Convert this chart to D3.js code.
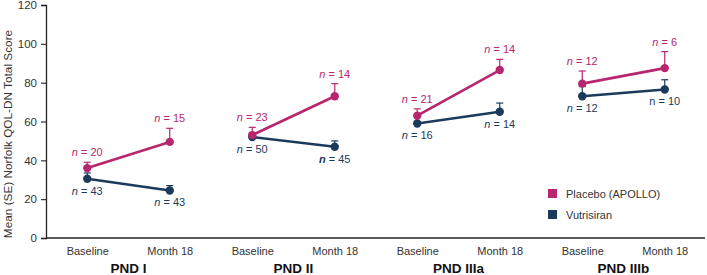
<!DOCTYPE html>
<html>
<head>
<meta charset="utf-8">
<script src="https://cdn.jsdelivr.net/npm/d3@7"></script>
<style>
  body { margin: 0; background: #fff; }
  svg { display: block; font-family: "Liberation Sans", Arial, sans-serif; }
</style>
</head>
<body>
<div id="chart"></div>
<script>
// données
const groups = ["PND I", "PND II", "PND IIIa", "PND IIIb"];
const timepoints = ["Baseline", "Month 18"];
const yTicks = [0, 20, 40, 60, 80, 100, 120];

const placeboMean = [36, 49.5, 53, 73, 63, 86.5, 79.5, 87.5];
const placeboSE   = [3, 7, 4, 6.5, 3.5, 5.5, 6.5, 8.5];
const placeboN    = [20, 15, 23, 14, 21, 14, 12, 6];

const vutriMean = [30.5, 24.5, 52, 47, 59, 65, 73, 76.5];
const vutriSE   = [3, 2.5, 1.5, 3, 4, 4.5, 5, 5];
const vutriN    = [43, 43, 50, 45, 16, 14, 12, 10];

const placeboColor = "#b8266e";
const vutriColor = "#1c3a5c";

const width = 707, height = 275;
const margin = { left: 46, right: 1, top: 5, bottom: 37 };

const svg = d3.select("#chart").append("svg")
    .attr("width", width)
    .attr("height", height);

// une position par couple (groupe, temps)
const keys = [];
groups.forEach(g => timepoints.forEach(t => keys.push(g + "|" + t)));

const x = d3.scalePoint()
    .domain(keys)
    .range([margin.left, width - margin.right])
    .padding(0.5);

const y = d3.scaleLinear()
    .domain([0, 120])
    .range([height - margin.bottom, margin.top]);

// axe Y
const yAxis = svg.append("g")
    .attr("transform", "translate(" + margin.left + ",0)")
    .call(d3.axisLeft(y).tickValues(yTicks).tickSize(5).tickPadding(4));
yAxis.select(".domain").attr("stroke", "#222").attr("stroke-width", 1.3);
yAxis.selectAll(".tick line").attr("stroke", "#222").attr("stroke-width", 1.1);
yAxis.selectAll("text").attr("font-size", 11.5).attr("fill", "#333")
    .attr("font-family", "Liberation Sans, Arial, sans-serif");

// axe X (ligne seule)
const xAxis = svg.append("g")
    .attr("transform", "translate(0," + y(0) + ")")
    .call(d3.axisBottom(x).tickSize(0).tickPadding(9).tickFormat(d => d.split("|")[1]));
xAxis.select(".domain").attr("stroke", "#222").attr("stroke-width", 1.3)
    .attr("d", "M" + margin.left + ",0H" + (width - 2));
xAxis.selectAll("text").attr("font-size", 11).attr("fill", "#333")
    .attr("font-family", "Liberation Sans, Arial, sans-serif");

// libellés des groupes
svg.selectAll(".group-label")
    .data(groups)
    .join("text")
    .attr("class", "group-label")
    .attr("x", g => (x(g + "|" + timepoints[0]) + x(g + "|" + timepoints[1])) / 2)
    .attr("y", 273)
    .attr("text-anchor", "middle")
    .attr("font-size", 13.5)
    .attr("font-weight", "bold")
    .attr("fill", "#111")
    .text(g => g);

// titre axe Y
svg.append("text")
    .attr("transform", "translate(12," + 134 + ") rotate(-90)")
    .attr("text-anchor", "middle")
    .attr("font-size", 11.8)
    .attr("fill", "#333")
    .text("Mean (SE) Norfolk QOL-DN Total Score");

function buildSeries(means, ses, ns) {
    return keys.map((k, i) => ({ key: k, group: k.split("|")[0], mean: means[i], se: ses[i], n: ns[i], i: i }));
}

const series = [
    { name: "Vutrisiran", color: vutriColor, data: buildSeries(vutriMean, vutriSE, vutriN), above: false },
    { name: "Placebo (APOLLO)", color: placeboColor, data: buildSeries(placeboMean, placeboSE, placeboN), above: true }
];

const line = d3.line().x(d => x(d.key)).y(d => y(d.mean));

series.forEach(s => {
    const g = svg.append("g");

    // barres d'erreur (vers le haut seulement)
    const eb = g.selectAll(".eb").data(s.data).join("g");
    eb.append("line")
        .attr("x1", d => x(d.key)).attr("x2", d => x(d.key))
        .attr("y1", d => y(d.mean)).attr("y2", d => y(d.mean + d.se))
        .attr("stroke", s.color).attr("stroke-width", 1.2);
    eb.append("line")
        .attr("x1", d => x(d.key) - 3.5).attr("x2", d => x(d.key) + 3.5)
        .attr("y1", d => y(d.mean + d.se)).attr("y2", d => y(d.mean + d.se))
        .attr("stroke", s.color).attr("stroke-width", 1.2);

    // lignes par groupe
    groups.forEach(grp => {
        g.append("path")
            .datum(s.data.filter(d => d.group === grp))
            .attr("d", line)
            .attr("fill", "none")
            .attr("stroke", s.color)
            .attr("stroke-width", 2.6);
    });

    g.selectAll("circle").data(s.data).join("circle")
        .attr("cx", d => x(d.key)).attr("cy", d => y(d.mean))
        .attr("r", 4.2)
        .attr("fill", s.color);

    // étiquettes n
    const lab = g.selectAll(".nlab").data(s.data).join("text")
        .attr("class", "nlab")
        .attr("x", d => x(d.key))
        .attr("y", d => s.above ? y(d.mean + d.se) - 6 : y(d.mean) + 16)
        .attr("text-anchor", "middle")
        .attr("font-size", 11)
        .attr("fill", s.color);
    lab.append("tspan")
        .attr("font-style", d => (s.name === "Vutrisiran" && d.i === 7) ? "normal" : "italic")
        .attr("font-weight", d => (s.name === "Vutrisiran" && d.i === 3) ? "bold" : "normal")
        .text("n");
    lab.append("tspan").text(d => " = " + d.n);
});

// légende
const legend = svg.append("g").attr("transform", "translate(548,189)");
[series[1], series[0]].forEach((s, i) => {
    legend.append("rect")
        .attr("x", 0).attr("y", i * 21)
        .attr("width", 9).attr("height", 9)
        .attr("fill", s.color);
    legend.append("text")
        .attr("x", 18).attr("y", i * 21 + 8.5)
        .attr("font-size", 11)
        .attr("fill", "#333")
        .text(s.name);
});
</script>
</body>
</html>
